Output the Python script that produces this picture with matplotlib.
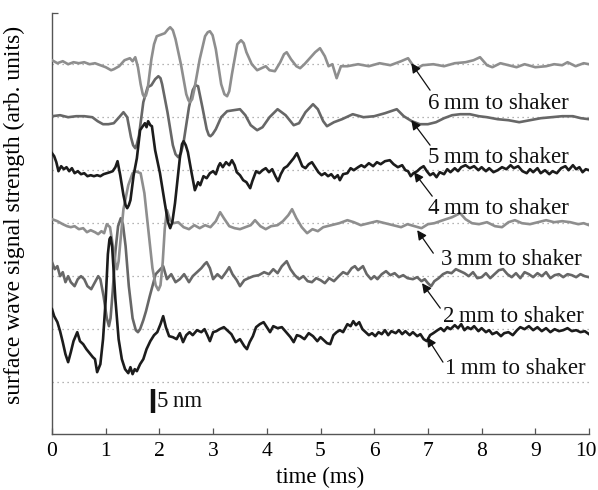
import numpy as np
import matplotlib
matplotlib.use("Agg")
import matplotlib.pyplot as plt
import matplotlib.transforms as mtransforms

plt.rcParams["font.family"] = ["Liberation Serif", "DejaVu Serif"]

# traces: (time in ms, signal in arb. units relative to own baseline)
pts_6mm = [(0.0, 4), (0.1, 1), (0.2, 3), (0.3, 0), (0.4, 2), (0.5, 1), (0.6, 2), (0.7, 0), (0.8, 1), (0.9, -1),
           (1.0, -3), (1.1, -6), (1.15, -5), (1.25, -2), (1.35, 4), (1.45, 6), (1.5, 3), (1.55, 7), (1.6, -3),
           (1.65, -20), (1.69, -30), (1.72, -33), (1.75, -31), (1.78, -25), (1.85, 5), (1.9, 20), (1.95, 28),
           (2.05, 30), (2.1, 31), (2.16, 35), (2.2, 37), (2.25, 34), (2.3, 25), (2.4, 0), (2.5, -30),
           (2.54, -36), (2.57, -38), (2.61, -35), (2.65, -25), (2.75, 5), (2.85, 28), (2.9, 32), (2.94, 33),
           (2.99, 29), (3.05, 15), (3.15, -20), (3.21, -30), (3.26, -32), (3.3, -27), (3.35, -10), (3.45, 20),
           (3.52, 24), (3.57, 21), (3.62, 12), (3.72, 0), (3.82, -6), (3.9, -4), (3.98, -2), (4.05, -6),
           (4.15, -7), (4.25, 2), (4.32, 10), (4.37, 12), (4.45, 5), (4.55, -2), (4.62, -4), (4.7, 0), (4.8, 6),
           (4.9, 12), (4.99, 16), (5.08, 8), (5.15, -2), (5.22, 0), (5.3, -14), (5.38, -2), (5.5, -2), (5.7, 0),
           (5.9, -2), (6.1, 1), (6.3, -1), (6.5, 3), (6.63, 6), (6.72, -1), (6.8, -4), (6.9, -1), (7.1, 0),
           (7.3, -2), (7.5, 1), (7.7, 2), (7.85, 4), (7.97, 7), (8.1, -1), (8.2, -3), (8.35, 1), (8.5, -1),
           (8.65, -3), (8.8, 0), (9.0, -3), (9.2, -2), (9.35, 0), (9.5, -1), (9.6, 2), (9.75, -2), (9.9, 1),
           (10.0, 0)]

pts_5mm = [(0.0, 1), (0.15, 2), (0.3, 0), (0.45, 1), (0.6, 1), (0.75, 0), (0.85, -4), (0.95, -7), (1.05, -7),
           (1.15, -6), (1.25, 0), (1.33, 5), (1.4, 0), (1.47, -20), (1.51, -28), (1.55, -31), (1.58, -27),
           (1.62, -18), (1.7, 15), (1.78, 30), (1.85, 32), (1.92, 38), (1.98, 41), (2.02, 39), (2.05, 33),
           (2.15, 5), (2.25, -28), (2.3, -37), (2.35, -40), (2.4, -36), (2.45, -25), (2.55, 10), (2.62, 27),
           (2.67, 32), (2.72, 31), (2.8, 10), (2.88, -12), (2.92, -18), (2.95, -19), (2.99, -17), (3.05, -12),
           (3.15, 0), (3.26, 6), (3.38, 7), (3.5, 8), (3.6, 2), (3.7, -8), (3.82, -13), (3.92, -10), (4.05, 0),
           (4.2, 8), (4.35, 2), (4.5, -8), (4.6, -6), (4.72, 5), (4.86, 13), (4.95, 8), (5.05, -4), (5.12, -9),
           (5.25, -5), (5.4, -2), (5.6, 3), (5.8, 0), (6.0, 1), (6.2, 4), (6.42, 8), (6.55, 1), (6.7, -4),
           (6.85, -7), (7.0, -7), (7.15, -5), (7.3, -1), (7.45, 2), (7.6, 3), (7.78, 3), (7.95, 1), (8.1, 0),
           (8.3, -2), (8.5, -3), (8.7, -5), (8.9, -3), (9.1, -1), (9.3, 0), (9.5, 1), (9.7, 1), (9.85, -1),
           (10.0, -2)]

pts_4mm = [(0.0, 17), (0.04, 14), (0.08, 8), (0.12, -1), (0.17, 4), (0.22, 1), (0.27, 3), (0.32, -1), (0.37, 2),
           (0.42, -3), (0.48, -1), (0.54, -4), (0.6, -3), (0.66, -6), (0.72, -5), (0.78, -6), (0.84, -5),
           (0.9, -6), (0.96, -4), (1.02, -3), (1.08, -2), (1.13, -1), (1.18, 3), (1.22, 9), (1.27, -5),
           (1.33, -25), (1.37, -35), (1.4, -38), (1.43, -35), (1.46, -30), (1.52, -5), (1.58, 12), (1.64, 40),
           (1.69, 44), (1.73, 47), (1.76, 43), (1.79, 49), (1.83, 45), (1.86, 44), (1.92, 20), (2.01, -3),
           (2.1, -33), (2.16, -52), (2.2, -58), (2.24, -52), (2.29, -33), (2.38, 12), (2.42, 26), (2.45, 29),
           (2.49, 25), (2.53, 18), (2.6, -3), (2.66, -20), (2.72, -12), (2.76, -15), (2.82, -6), (2.88, -8),
           (2.94, -3), (3.0, -1), (3.05, -4), (3.1, 4), (3.13, 7), (3.18, 3), (3.24, 8), (3.3, 5), (3.35, 10),
           (3.4, 5), (3.44, -2), (3.5, -5), (3.56, -10), (3.62, -12), (3.69, -18), (3.73, -11), (3.8, -1),
           (3.86, -3), (3.92, 0), (3.98, 2), (4.04, -2), (4.1, 1), (4.16, -6), (4.21, -11), (4.26, -4),
           (4.32, 2), (4.38, 4), (4.44, 8), (4.5, 12), (4.56, 17), (4.6, 12), (4.66, 4), (4.72, 2), (4.78, 6),
           (4.84, 8), (4.9, 3), (4.96, -2), (5.02, -5), (5.08, -3), (5.14, -6), (5.2, -4), (5.26, -8),
           (5.32, -5), (5.36, -10), (5.42, -4), (5.5, -3), (5.56, 2), (5.62, 0), (5.7, 3), (5.76, 5), (5.82, 3),
           (5.9, 7), (5.98, 4), (6.05, 8), (6.12, 6), (6.2, 9), (6.29, 10), (6.36, 6), (6.44, 3), (6.52, 5),
           (6.58, 0), (6.63, -1), (6.68, -6), (6.73, -3), (6.8, -1), (6.86, 2), (6.92, 4), (6.98, -1),
           (7.04, -5), (7.1, -3), (7.16, -7), (7.22, -2), (7.3, -4), (7.36, 1), (7.42, -2), (7.5, 2),
           (7.56, -1), (7.62, 3), (7.7, 5), (7.78, 2), (7.86, 4), (7.94, 0), (8.0, 3), (8.08, -1), (8.14, 2),
           (8.22, -2), (8.3, 0), (8.38, 3), (8.46, 1), (8.54, 5), (8.6, 2), (8.68, 4), (8.76, -1), (8.84, -3),
           (8.9, 1), (8.96, -2), (9.04, 2), (9.1, -3), (9.18, 0), (9.26, -4), (9.32, -1), (9.4, -3), (9.48, 2),
           (9.56, 4), (9.62, 0), (9.7, 5), (9.76, 1), (9.82, 3), (9.88, -2), (9.94, 1), (10.0, 0)]

pts_3mm = [(0.0, 4), (0.1, 2), (0.2, -1), (0.28, -3), (0.35, -4), (0.42, -3), (0.5, -6), (0.58, -5), (0.65, -9),
           (0.72, -7), (0.8, -9), (0.86, -11), (0.92, -8), (0.97, -10), (1.02, -1), (1.08, -4), (1.14, -25),
           (1.18, -40), (1.21, -46), (1.24, -38), (1.27, -20), (1.33, 14), (1.42, 38), (1.5, 50), (1.55, 52),
           (1.6, 51), (1.65, 50), (1.72, 30), (1.8, -10), (1.87, -45), (1.93, -62), (1.98, -67), (2.02, -62),
           (2.06, -40), (2.1, -5), (2.14, 13), (2.2, 3), (2.26, 0), (2.35, 1), (2.45, -4), (2.55, -6),
           (2.65, -2), (2.75, -5), (2.85, -2), (2.95, -4), (3.05, 2), (3.13, 11), (3.2, 5), (3.3, -3),
           (3.4, -5), (3.5, -6), (3.6, -4), (3.7, -2), (3.78, 3), (3.88, -3), (3.98, -6), (4.08, -3), (4.2, -2),
           (4.3, 2), (4.4, 8), (4.47, 14), (4.55, 5), (4.65, -4), (4.75, -10), (4.85, -6), (4.95, -8),
           (5.05, -4), (5.2, -2), (5.35, 0), (5.5, 3), (5.62, 1), (5.75, -2), (5.9, 0), (6.05, 2), (6.2, 0),
           (6.35, -2), (6.5, -4), (6.62, -1), (6.75, -3), (6.88, -5), (7.0, -1), (7.12, 0), (7.28, 3),
           (7.45, 6), (7.6, 10), (7.7, 4), (7.82, 0), (7.95, -1), (8.1, 1), (8.25, -3), (8.38, -4), (8.5, 1),
           (8.62, 3), (8.75, 0), (8.9, -1), (9.05, 1), (9.2, 3), (9.35, 1), (9.5, 2), (9.65, 1), (9.8, -1),
           (9.9, 0), (10.0, -2)]

pts_2mm = [(0.0, 14), (0.05, 7), (0.1, 10), (0.15, 0), (0.2, 4), (0.25, -6), (0.3, 0), (0.35, -6), (0.42, -10),
           (0.48, -3), (0.54, 0), (0.6, -3), (0.66, -10), (0.73, -13), (0.8, -6), (0.86, 0), (0.9, -3),
           (0.96, -20), (1.02, -42), (1.06, -50), (1.09, -42), (1.13, -15), (1.18, 25), (1.23, 50), (1.28, 58),
           (1.32, 52), (1.37, 30), (1.43, -10), (1.5, -42), (1.56, -54), (1.6, -56), (1.64, -53), (1.7, -44),
           (1.75, -35), (1.82, -20), (1.88, -8), (1.93, 2), (2.0, 6), (2.07, 10), (2.14, -3), (2.22, 2),
           (2.3, -6), (2.38, -3), (2.46, 2), (2.55, -6), (2.62, 0), (2.7, 4), (2.78, 8), (2.84, 12), (2.88, 14),
           (2.94, 8), (3.0, -3), (3.08, 2), (3.16, -2), (3.24, 4), (3.3, 9), (3.36, 2), (3.44, -4), (3.5, -10),
           (3.58, -4), (3.66, -2), (3.75, 0), (3.85, 1), (3.95, 4), (4.04, 2), (4.12, 7), (4.2, 3), (4.28, 10),
           (4.37, 15), (4.44, 7), (4.52, 1), (4.6, -3), (4.68, 0), (4.76, -5), (4.84, -6), (4.92, -2), (5.0, -4),
           (5.08, -7), (5.16, -2), (5.25, -5), (5.34, 0), (5.42, 4), (5.5, 2), (5.58, 8), (5.64, 10), (5.7, 6),
           (5.79, 10), (5.86, 2), (5.94, -3), (6.0, 0), (6.06, -3), (6.14, 2), (6.22, 5), (6.3, 1), (6.38, 3),
           (6.46, -1), (6.54, 1), (6.62, -2), (6.72, -3), (6.8, -1), (6.88, -5), (6.94, -3), (7.0, -7),
           (7.06, -10), (7.12, -5), (7.2, -2), (7.28, 2), (7.36, 4), (7.44, 3), (7.52, 7), (7.6, 5), (7.68, 3),
           (7.76, 0), (7.84, 4), (7.92, -2), (8.0, -1), (8.08, 3), (8.16, -2), (8.24, 2), (8.32, 6), (8.4, 7),
           (8.48, 2), (8.56, -1), (8.64, 3), (8.72, -2), (8.8, 4), (8.88, 2), (8.96, -1), (9.04, 3), (9.12, 0),
           (9.2, 4), (9.28, -2), (9.36, 1), (9.44, 2), (9.52, -1), (9.6, 2), (9.68, 1), (9.76, -1), (9.84, 2),
           (9.92, 0), (10.0, -1)]

pts_1mm = [(0.0, 20), (0.04, 13), (0.1, 7), (0.15, -2), (0.2, -13), (0.25, -25), (0.3, -33), (0.35, -23),
           (0.4, -12), (0.47, -3), (0.52, -12), (0.58, -15), (0.64, -20), (0.7, -24), (0.76, -28), (0.8, -30),
           (0.84, -43), (0.9, -35), (0.95, -10), (1.0, 30), (1.04, 75), (1.07, 90), (1.09, 92), (1.12, 82),
           (1.18, 30), (1.24, -10), (1.3, -30), (1.36, -40), (1.42, -44), (1.46, -38), (1.5, -45), (1.54, -40),
           (1.58, -42), (1.64, -35), (1.7, -30), (1.76, -20), (1.83, -12), (1.9, -6), (1.96, -3), (2.02, 5),
           (2.07, 13), (2.12, 2), (2.18, -7), (2.25, -8), (2.32, -10), (2.38, -4), (2.44, -13), (2.5, -6),
           (2.56, -3), (2.62, -6), (2.7, -1), (2.78, -3), (2.84, 0), (2.9, -7), (2.94, -12), (3.0, -3),
           (3.06, -2), (3.12, 0), (3.2, 2), (3.28, -2), (3.34, -5), (3.42, -13), (3.5, -10), (3.58, -17),
           (3.63, -20), (3.68, -13), (3.74, -7), (3.8, 2), (3.87, 5), (3.94, 7), (4.0, 2), (4.06, -3), (4.12, 3),
           (4.2, 1), (4.28, 2), (4.36, -3), (4.44, -8), (4.5, -13), (4.56, -6), (4.62, -7), (4.7, -10),
           (4.78, -4), (4.86, -7), (4.94, -12), (5.0, -8), (5.06, -11), (5.12, -14), (5.18, -15), (5.24, -6),
           (5.3, -3), (5.36, -1), (5.42, -3), (5.5, 5), (5.56, 3), (5.61, 8), (5.66, 4), (5.72, 7), (5.78, 0),
           (5.84, -3), (5.9, -6), (5.96, -4), (6.02, -7), (6.08, -3), (6.14, -5), (6.2, -1), (6.26, -6),
           (6.32, -2), (6.4, -4), (6.46, -1), (6.52, -5), (6.58, -2), (6.66, -6), (6.72, -3), (6.8, -7),
           (6.86, -5), (6.92, -10), (6.98, -12), (7.04, -6), (7.1, -4), (7.18, -1), (7.24, 1), (7.3, -2),
           (7.36, 2), (7.42, 0), (7.5, 4), (7.56, 1), (7.62, 5), (7.68, -1), (7.74, 2), (7.8, 0), (7.86, 3),
           (7.94, -2), (8.0, 1), (8.08, -3), (8.14, -1), (8.2, -5), (8.28, -3), (8.36, -7), (8.42, -4),
           (8.5, -3), (8.58, -6), (8.66, -1), (8.72, 2), (8.8, 0), (8.88, 3), (8.96, -1), (9.04, 2), (9.12, -2),
           (9.2, 1), (9.28, -3), (9.36, 0), (9.44, -2), (9.52, -1), (9.6, 1), (9.68, -2), (9.76, -1),
           (9.84, -3), (9.92, -2), (10.0, -5)]

labels = ["1\u2009mm to shaker", "2\u2009mm to shaker", "3\u2009mm to shaker",
          "4\u2009mm to shaker", "5\u2009mm to shaker", "6\u2009mm to shaker"]
traces = [pts_1mm, pts_2mm, pts_3mm, pts_4mm, pts_5mm, pts_6mm]
colors = ["#1c1c1c", "#676767", "#8e8e8e", "#1c1c1c", "#676767", "#8e8e8e"]

spacing = 53          # offset between traces
nm5 = 24              # length of the 5 nm scale bar in the same units

# label text position, arrow tail and arrow head (time, offset from baseline)
label_pos = [(7.32, -39), (7.28, -40), (7.24, -36), (7.0, -38), (7.0, -40), (7.0, -39)]
arrow_tail = [(7.28, -33), (7.23, -32), (7.1, -30), (7.08, -26), (7.04, -28), (7.04, -26)]
arrow_head = [(6.98, -8), (6.89, -7), (6.8, -7), (6.74, -2), (6.69, -3), (6.69, 1)]

fig = plt.figure(figsize=(5.98, 4.90), dpi=100)
ax = fig.add_axes([0.087, 0.114, 0.898, 0.859])

# dotted baselines
for k in range(7):
    ax.plot([0, 10], [k * spacing, k * spacing], linestyle=(0, (1, 3)), color="#9c9c9c", lw=0.9, zorder=1)

for k, pts in enumerate(traces):
    t, y = np.array(pts, dtype=float).T
    base = (k + 1) * spacing
    ax.plot(t, y + base, color=colors[k], lw=1.9, zorder=3 + (k % 3 == 0), solid_joinstyle="round")

for k in range(6):
    base = (k + 1) * spacing
    ax.annotate("", xy=(arrow_head[k][0], arrow_head[k][1] + base),
                xytext=(arrow_tail[k][0], arrow_tail[k][1] + base),
                arrowprops=dict(arrowstyle="-|>", color="#111111", lw=0.9,
                                mutation_scale=14, shrinkA=0, shrinkB=0), zorder=6)
    ax.text(label_pos[k][0], label_pos[k][1] + base, labels[k], fontsize=16.5,
            va="center", ha="left", color="#111111", zorder=7)

# 5 nm scale bar
ax.plot([1.88, 1.88], [-7, -7 - nm5], color="#111111", lw=3.2, solid_capstyle="butt")
ax.text(1.96, -7 - nm5 / 2, "5\u2009nm", fontsize=16.5, va="center", ha="left", color="#111111")

ax.set_xlim(0, 10)
ax.set_ylim(-52, 369)
ax.set_xticks(range(11))
ax.set_yticks([369])
ax.set_yticklabels([])
ax.tick_params(axis="both", direction="in", length=4, width=0.9, color="#555555",
               labelsize=15.5, pad=6)
for side in ["top", "right"]:
    ax.spines[side].set_visible(False)
for side in ["left", "bottom"]:
    ax.spines[side].set_color("#555555")
    ax.spines[side].set_linewidth(1.0)

# nudge the "10" a little to the left so it stays inside the figure
last = ax.get_xticklabels()[-1]
last.set_transform(last.get_transform() + mtransforms.ScaledTranslation(-3 / 100, 0, fig.dpi_scale_trans))

ax.set_xlabel("time (ms)", fontsize=16.5, labelpad=4)
ax.set_ylabel("surface wave signal strength (arb. units)", fontsize=17)
ax.yaxis.set_label_coords(-0.05, 0.52)

fig.savefig("out.png", dpi=100)
